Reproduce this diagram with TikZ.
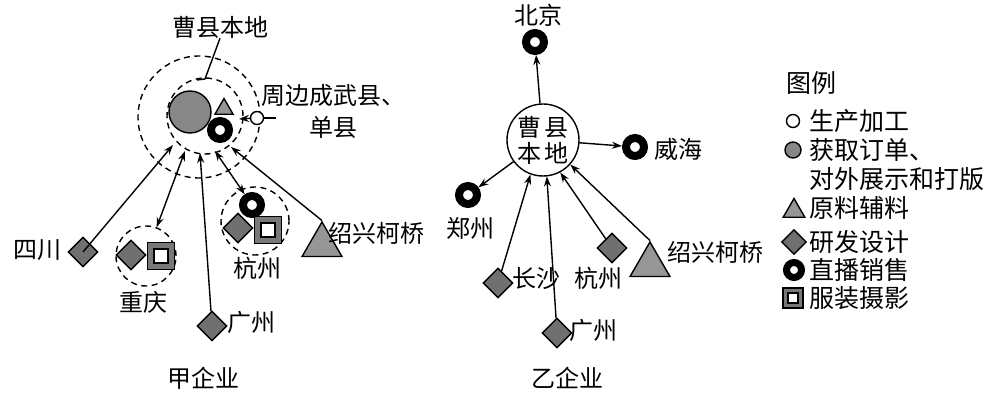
\documentclass[tikz,border=0pt]{standalone}
\usepackage{fontspec}
\newfontfamily\cjk{Noto Sans CJK SC}
\usetikzlibrary{shapes.geometric,arrows.meta}
\definecolor{gcirc}{RGB}{135,135,135}
\definecolor{gdia}{RGB}{112,112,112}
\definecolor{gtri}{RGB}{150,150,150}
\definecolor{gsq}{RGB}{120,120,120}
\tikzset{
 lbl/.style={font=\cjk\fontsize{24}{28}\selectfont, inner sep=0pt},
 leg/.style={font=\cjk\fontsize{25}{28}\selectfont, inner sep=0pt, anchor=west},
 dcirc/.style={circle, draw, dash pattern=on 6pt off 4.5pt, line width=1.4pt, inner sep=0pt},
 gcircle/.style={circle, draw, fill=gcirc, line width=1.4pt, inner sep=0pt},
 wcircle/.style={circle, draw, fill=white, line width=1.4pt, inner sep=0pt, minimum size=13pt},
 ring/.style={circle, draw=black, fill=white, line width=8pt, inner sep=0pt, minimum size=18pt},
 dia/.style={diamond, draw, fill=gdia, line width=1.4pt, inner sep=0pt, minimum size=30pt},
 tri/.style={regular polygon, regular polygon sides=3, draw, fill=gtri, line width=1.4pt, inner sep=0pt, minimum size=46pt},
 sq/.style={draw, fill=gsq, line width=1.4pt, inner sep=0pt, minimum size=27pt},
 sqin/.style={draw, fill=white, line width=1.4pt, inner sep=0pt, minimum size=14pt},
 con/.style={line width=1.4pt},
 arr/.style={con, -{Stealth[length=10pt,width=7pt]}},
 arrb/.style={con, {Stealth[length=10pt,width=7pt]}-{Stealth[length=10pt,width=7pt]}},
}
\begin{document}
\begin{tikzpicture}[x=1pt,y=-1pt]
\useasboundingbox (0,0) rectangle (1007,403);
\fill[white] (0,0) rectangle (1007,403);

% ---------- left: 甲企业 ----------
\node[dcirc, minimum size=122pt] (Louter) at (199,117) {};
\node[dcirc, minimum size=76pt] (Linner) at (205,116) {};
\node[gcircle, minimum size=42pt] (Lorder) at (190,112) {};
\node[tri, minimum size=21pt] (Ltri) at (224,109) {};
\node[ring] (Lring) at (220,130) {};
\node[wcircle] (Lprod) at (257,118) {};
\coordinate (Lprodin) at (239,119);
\coordinate (Lprodout) at (276,118);
\draw[arr] (Lprod) -- (Lprodin);
\draw[con] (Lprod) -- (Lprodout);
\node[lbl, align=center, font=\cjk\fontsize{24}{32}\selectfont] (Lzb) at (333,111) {周边成武县、\\单县};

\node[lbl] (Lcaotxt) at (220,27) {曹县本地};
\coordinate (Lldr1) at (205,79);
\coordinate (Lldr2) at (197,80);
\draw[con] (Lcaotxt.south) -- (Lldr1) -- (Lldr2);

% 四川
\node[dia] (Lsc) at (83,252) {};
\node[lbl] (Lsctxt) at (37,250) {四川};
% 重庆
\node[dcirc, minimum size=60pt] (Lcqc) at (146,256) {};
\node[dia] (Lcqd) at (131,255) {};
\node[sq] (Lcqs) at (161,256) {};
\node[sqin] (Lcqsi) at (161,256) {};
\node[lbl] (Lcqtxt) at (143,302) {重庆};
% 杭州
\node[dcirc, minimum size=68pt] (Lhzc) at (255,221) {};
\node[ring] (Lhzr) at (252,205) {};
\node[dia] (Lhzd) at (238,228) {};
\node[sq] (Lhzs) at (268,230) {};
\node[sqin] (Lhzsi) at (268,230) {};
\node[lbl] (Lhztxt) at (257,268) {杭州};
% 广州
\node[dia] (Lgzd) at (212,326) {};
\node[lbl] (Lgztxt) at (251,322) {广州};
% 绍兴柯桥
\node[tri] (Lsxt) at (322,245) {};
\node[lbl, anchor=west] (Lsxtxt) at (328,233) {绍兴柯桥};

\coordinate (Lt1) at (173,145);
\coordinate (Lt2) at (185,151);
\coordinate (Lt3) at (200,153);
\coordinate (Lt4) at (215,151);
\coordinate (Lt5) at (231,147);
\draw[arr] (Lsc.center) -- (Lt1);
\draw[arrb] (Lcqc) -- (Lt2);
\draw[arr] (Lgzd) -- (Lt3);
\draw[arrb] (Lhzr) -- (Lt4);
\draw[arr] (Lsxt.corner 1) -- (Lt5);

\node[lbl] (Ljia) at (203,378) {甲企业};

% ---------- right: 乙企业 ----------
\node[circle, draw, fill=white, line width=1.4pt, minimum size=72pt, inner sep=0pt, align=center,
      font=\cjk\fontsize{24}{26}\selectfont] (Rc) at (543,140) {曹\hspace{4pt}县\\本\hspace{4pt}地};
\node[ring] (Rbj) at (535,42) {};
\node[lbl] (Rbjtxt) at (538,15) {北京};
\node[ring] (Rwh) at (635,147) {};
\node[lbl] (Rwhtxt) at (678,149) {威海};
\node[ring] (Rzz) at (468,195) {};
\node[lbl] (Rzztxt) at (470,228) {郑州};
\node[dia] (Rcsd) at (498,283) {};
\node[lbl] (Rcstxt) at (536,279) {长沙};
\node[dia] (Rgzd) at (557,333) {};
\node[lbl] (Rgztxt) at (593,330) {广州};
\node[dia] (Rhzd) at (612,248) {};
\node[lbl] (Rhztxt) at (598,278) {杭州};
\node[tri] (Rsxt) at (650,265) {};
\node[lbl, anchor=west] (Rsxtxt) at (667,252) {绍兴柯桥};

\draw[arr] (Rc) -- (Rbj);
\draw[arr] (Rc) -- (Rwh);
\draw[arr] (Rc) -- (Rzz);
\draw[arr] (Rcsd) -- (Rc.-110);
\draw[arr] (Rgzd) -- (Rc.-84);
\draw[arr] (Rhzd) -- (Rc.-62);
\draw[arr] (Rsxt.corner 1) -- (Rc.-42);

\node[lbl] (Ryi) at (567,378) {乙企业};

% ---------- legend ----------
\node[leg] (Gtitle) at (786,83) {图例};
\node[wcircle] (G1s) at (793,121) {};
\node[leg] (G1t) at (809,121) {生产加工};
\node[gcircle, minimum size=16pt] (G2s) at (793,150) {};
\node[leg] (G2t) at (809,150) {获取订单、};
\node[leg] (G2t2) at (809,179) {对外展示和打版};
\node[tri, minimum size=25pt] (G3s) at (794,211) {};
\node[leg] (G3t) at (809,208) {原料辅料};
\node[dia, minimum size=25pt] (G4s) at (794,242) {};
\node[leg] (G4t) at (809,242) {研发设计};
\node[ring, line width=7pt, minimum size=15pt] (G5s) at (794,270) {};
\node[leg] (G5t) at (809,270) {直播销售};
\node[sq, minimum size=20pt] (G6s) at (793,298) {};
\node[sqin, minimum size=10pt] (G6si) at (793,298) {};
\node[leg] (G6t) at (809,298) {服装摄影};
\end{tikzpicture}
\end{document}
